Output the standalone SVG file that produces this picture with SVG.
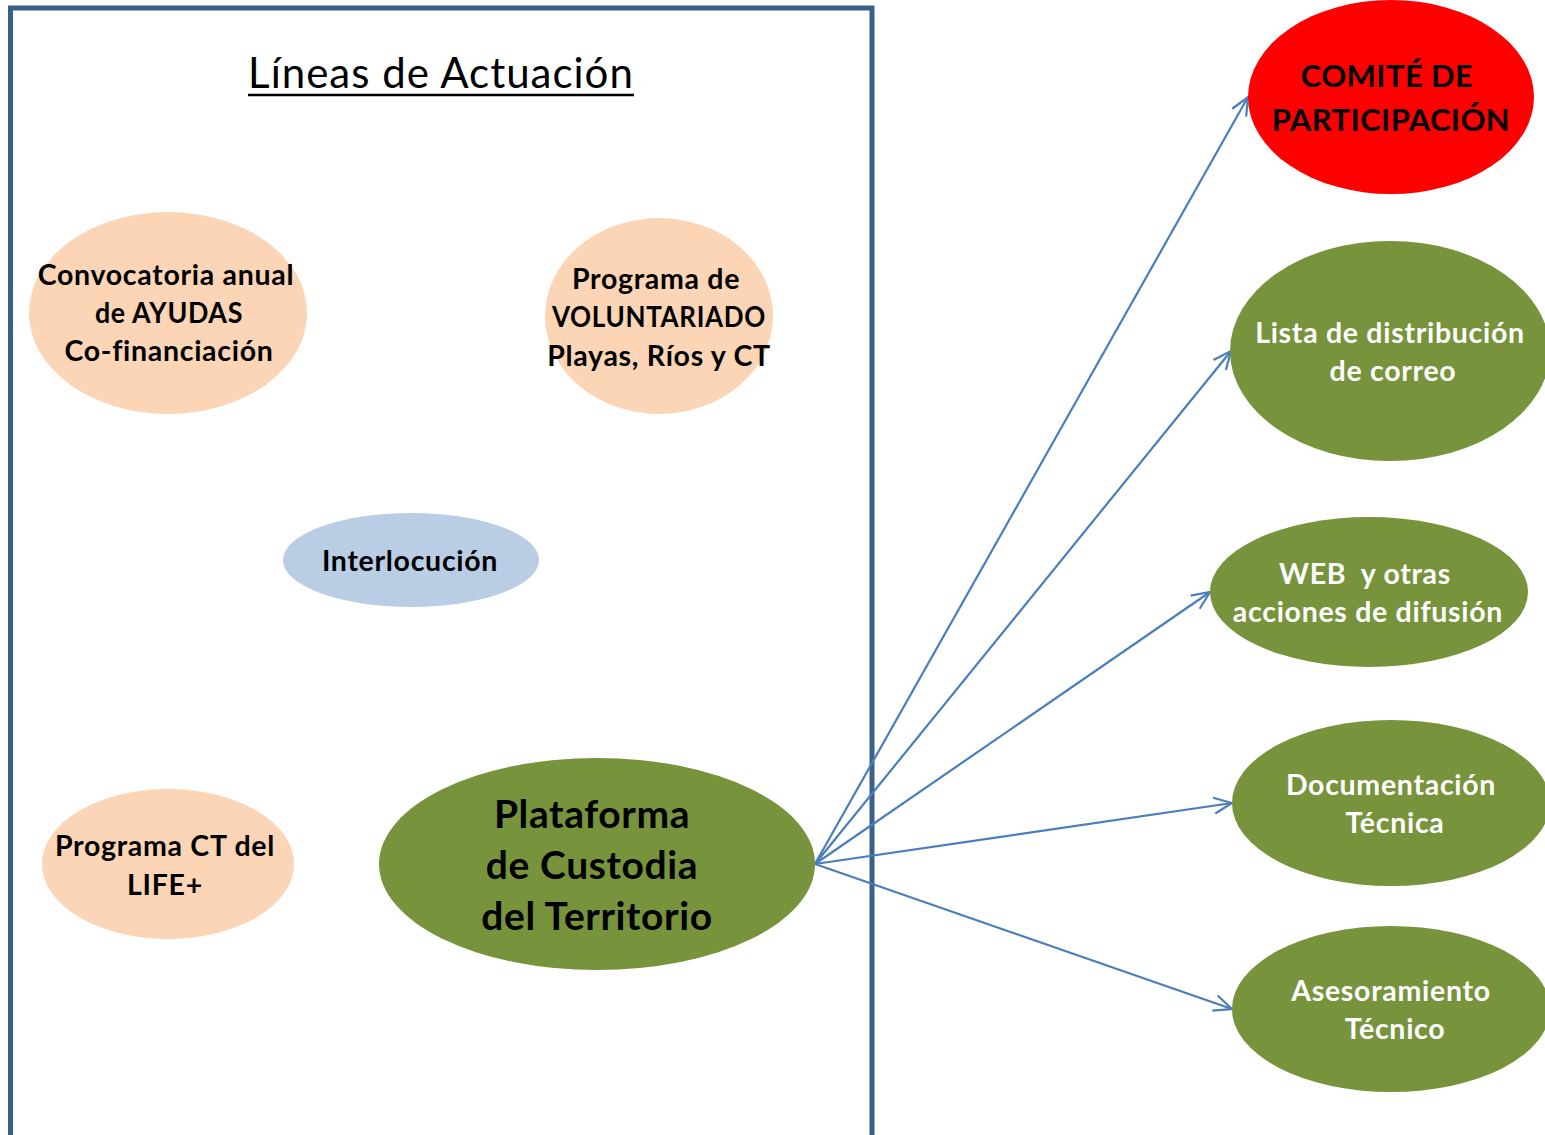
<svg xmlns="http://www.w3.org/2000/svg" width="1545" height="1135" viewBox="0 0 1545 1135">
<style>
  text { font-family: Lato, "Open Sans", "Liberation Sans", sans-serif; font-weight: bold; text-anchor: middle; }
  .peach { fill: #FBD5B5; }
  .green { fill: #77933C; }
  .blue { fill: #B9CDE5; }
  .dark { fill: #000000; font-size: 28.5px; letter-spacing: 0.7px; }
  .white { fill: #FFFFFF; font-size: 28.5px; letter-spacing: 0.7px; }
  .big { fill: #000000; font-size: 39px; letter-spacing: 0.6px; }
  .red { fill: #000000; font-size: 31px; letter-spacing: 0.4px; }
  .conn { stroke: #4A7EBB; stroke-width: 2.2; fill: none; marker-end: url(#arr); }
</style>
<defs>
  <marker id="arr" viewBox="0 0 20 20" refX="19" refY="10" markerWidth="20" markerHeight="20" markerUnits="userSpaceOnUse" orient="auto">
    <path d="M1,2 L19,10 L1,18" fill="none" stroke="#4A7EBB" stroke-width="2.2"/>
  </marker>
</defs>
<rect width="1545" height="1135" fill="#FFFFFF"/>
<g id="frame">
  <path d="M10.5,1140 L10.5,8 L872,8 L872,1140" fill="none" stroke="#3A5F8B" stroke-width="5"/>
</g>
<g id="title">
  <text x="441" y="88" style="font-weight:normal; font-size:42px; letter-spacing:1px; fill:#000">Líneas de Actuación</text>
  <line x1="248" y1="95" x2="634" y2="95" stroke="#000" stroke-width="2.5"/>
</g>
<g id="connectors">
  <line class="conn" x1="815" y1="864" x2="1248" y2="97"/>
  <line class="conn" x1="815" y1="864" x2="1231" y2="351"/>
  <line class="conn" x1="815" y1="864" x2="1210" y2="592"/>
  <line class="conn" x1="815" y1="864" x2="1232" y2="803"/>
  <line class="conn" x1="815" y1="864" x2="1232" y2="1009"/>
</g>
<g id="convocatoria">
  <ellipse class="peach" cx="168" cy="313" rx="139" ry="101"/>
  <text class="dark" x="166" y="285">Convocatoria anual</text>
  <text class="dark" x="169" y="323" textLength="148" lengthAdjust="spacingAndGlyphs">de AYUDAS</text>
  <text class="dark" x="169" y="361">Co-financiación</text>
</g>
<g id="voluntariado">
  <ellipse class="peach" cx="659" cy="316" rx="114" ry="98"/>
  <text class="dark" x="656" y="289">Programa de</text>
  <text class="dark" x="659" y="327" textLength="214" lengthAdjust="spacingAndGlyphs">VOLUNTARIADO</text>
  <text class="dark" x="659" y="366">Playas, Ríos y CT</text>
</g>
<g id="interlocucion">
  <ellipse class="blue" cx="411" cy="560" rx="128" ry="47"/>
  <text class="dark" x="410" y="571">Interlocución</text>
</g>
<g id="life">
  <ellipse class="peach" cx="168" cy="864" rx="126" ry="75"/>
  <text class="dark" x="165" y="856">Programa CT del</text>
  <text class="dark" x="165" y="895">LIFE+</text>
</g>
<g id="plataforma">
  <ellipse class="green" cx="597" cy="864" rx="218" ry="106"/>
  <text class="big" x="592" y="828">Plataforma</text>
  <text class="big" x="592" y="879">de Custodia</text>
  <text class="big" x="597" y="930">del Territorio</text>
</g>
<g id="comite">
  <ellipse cx="1391" cy="97" rx="143" ry="97" fill="#FF0000"/>
  <text class="red" x="1387" y="87">COMITÉ DE</text>
  <text class="red" x="1391" y="131">PARTICIPACIÓN</text>
</g>
<g id="lista">
  <ellipse class="green" cx="1390" cy="351" rx="160" ry="110"/>
  <text class="white" x="1390" y="343">Lista de distribución</text>
  <text class="white" x="1393" y="381">de correo</text>
</g>
<g id="web">
  <ellipse class="green" cx="1369" cy="592" rx="159" ry="75"/>
  <text class="white" x="1365" y="584" xml:space="preserve">WEB  y otras</text>
  <text class="white" x="1368" y="622">acciones de difusión</text>
</g>
<g id="documentacion">
  <ellipse class="green" cx="1391" cy="803" rx="159" ry="83"/>
  <text class="white" x="1391" y="795">Documentación</text>
  <text class="white" x="1395" y="833">Técnica</text>
</g>
<g id="asesoramiento">
  <ellipse class="green" cx="1391" cy="1009" rx="159" ry="83"/>
  <text class="white" x="1391" y="1001">Asesoramiento</text>
  <text class="white" x="1395" y="1039">Técnico</text>
</g>
</svg>
